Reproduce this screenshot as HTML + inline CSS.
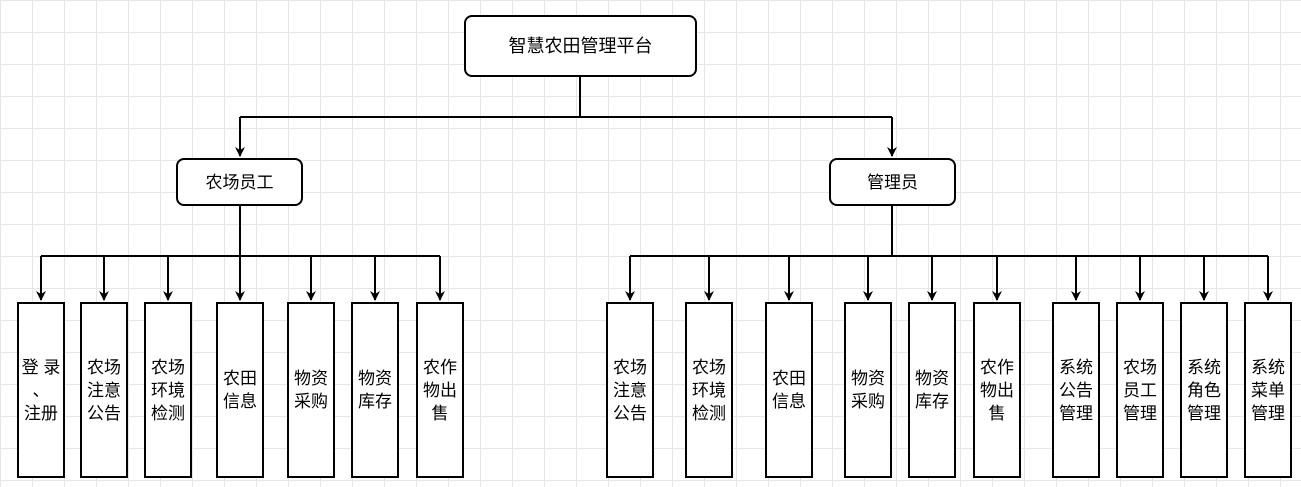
<!DOCTYPE html>
<html><head><meta charset="utf-8"><style>
body{margin:0;width:1301px;height:487px;overflow:hidden;background:#fff;
background-image:linear-gradient(#e6e6e6 1px,transparent 1px),linear-gradient(90deg,#e6e6e6 1px,transparent 1px);
background-size:32px 32px;font-family:"Liberation Sans","Noto Sans CJK SC",sans-serif;}
.b{position:absolute;box-sizing:border-box;border:2px solid #000;background:#fff;display:flex;align-items:center;justify-content:center;text-align:center;font-size:17px;line-height:23px;color:#000}
.r{border-radius:8px}
.v{top:302px;height:176px;width:48px;padding:0 2px}
svg{position:absolute;left:0;top:0}
</style></head><body>
<svg width="1301" height="487">
<defs><marker id="a" markerWidth="10" markerHeight="10" refX="9" refY="5" orient="auto" markerUnits="userSpaceOnUse"><path d="M0,0 L10,5 L0,10 L3,5 Z" transform="rotate(0)" fill="#000"/></marker></defs>
<g stroke="#000" stroke-width="2" fill="none">
<path d="M580,77 V117 M240,117 H892"/>
<path d="M240,117 V156" marker-end="url(#a)"/><path d="M892,117 V156" marker-end="url(#a)"/>
<path d="M240,206 V256 M41,256 H440"/>
<path d="M41,256 V300" marker-end="url(#a)"/><path d="M104,256 V300" marker-end="url(#a)"/><path d="M168,256 V300" marker-end="url(#a)"/><path d="M240,256 V300" marker-end="url(#a)"/><path d="M311,256 V300" marker-end="url(#a)"/><path d="M375,256 V300" marker-end="url(#a)"/><path d="M440,256 V300" marker-end="url(#a)"/>
<path d="M892,206 V256 M630,256 H1268"/>
<path d="M630,256 V300" marker-end="url(#a)"/><path d="M709,256 V300" marker-end="url(#a)"/><path d="M789,256 V300" marker-end="url(#a)"/><path d="M868,256 V300" marker-end="url(#a)"/><path d="M932,256 V300" marker-end="url(#a)"/><path d="M997,256 V300" marker-end="url(#a)"/><path d="M1076,256 V300" marker-end="url(#a)"/><path d="M1140,256 V300" marker-end="url(#a)"/><path d="M1204,256 V300" marker-end="url(#a)"/><path d="M1268,256 V300" marker-end="url(#a)"/>
</g></svg>
<div class="b r" style="left:464px;top:15px;width:233px;height:62px;font-size:18px">智慧农田管理平台</div>
<div class="b r" style="left:176px;top:158px;width:127px;height:48px">农场员工</div>
<div class="b r" style="left:829px;top:158px;width:127px;height:48px">管理员</div>
<div class="b v" style="left:17px">登 录<br>、<br>注册</div>
<div class="b v" style="left:80px">农场注意公告</div>
<div class="b v" style="left:144px">农场环境检测</div>
<div class="b v" style="left:216px">农田信息</div>
<div class="b v" style="left:287px">物资采购</div>
<div class="b v" style="left:351px">物资库存</div>
<div class="b v" style="left:416px">农作物出售</div>
<div class="b v" style="left:606px">农场注意公告</div>
<div class="b v" style="left:685px">农场环境检测</div>
<div class="b v" style="left:765px">农田信息</div>
<div class="b v" style="left:844px">物资采购</div>
<div class="b v" style="left:908px">物资库存</div>
<div class="b v" style="left:973px;left:973px">农作物出售</div>
<div class="b v" style="left:1052px">系统公告管理</div>
<div class="b v" style="left:1116px">农场员工管理</div>
<div class="b v" style="left:1180px">系统角色管理</div>
<div class="b v" style="left:1244px">系统菜单管理</div>
</body></html>
